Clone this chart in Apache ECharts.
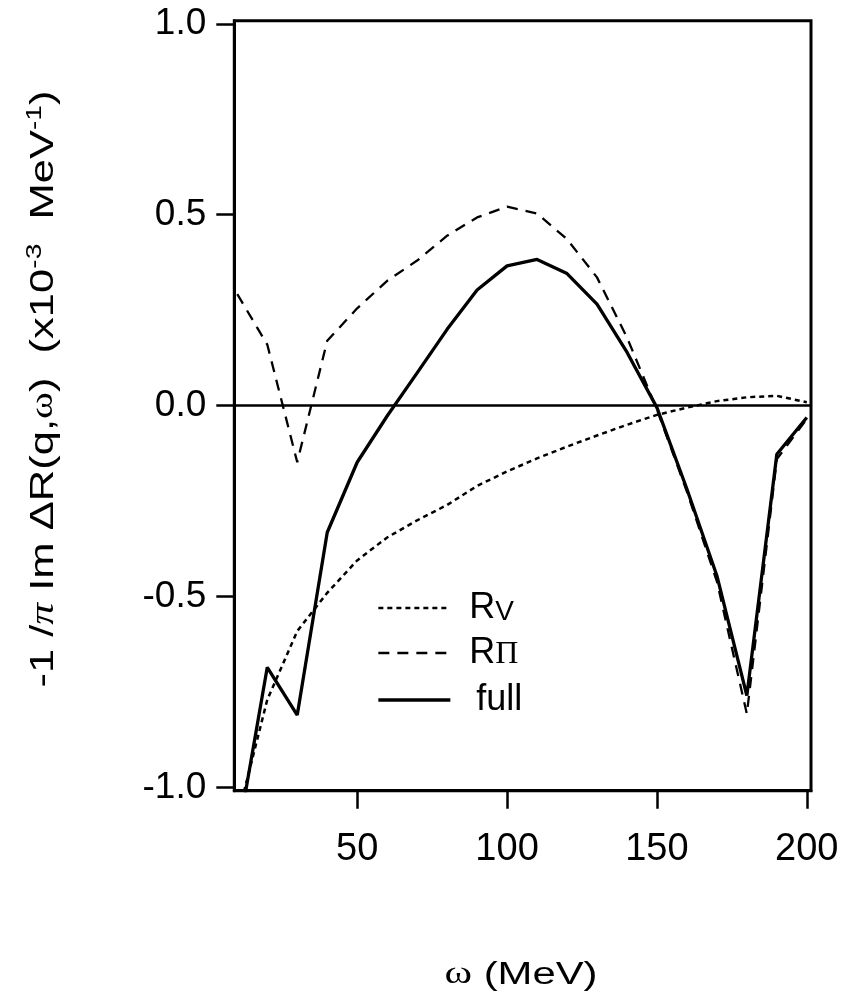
<!DOCTYPE html>
<html>
<head>
<meta charset="utf-8">
<script src="https://cdn.jsdelivr.net/npm/echarts@6/dist/echarts.min.js"></script>
<style>
html,body{margin:0;padding:0;background:#fff;}
#chart{width:849px;height:1001px;}
</style>
</head>
<body>
<div id="chart"></div>
<script>
// omega (MeV)
var omega = [10,20,30,40,50,60,70,80,90,100,110,120,130,140,150,160,170,180,190,200];
// R_V (dotted)
var rV = [-1.08,-0.77,-0.59,-0.49,-0.405,-0.345,-0.30,-0.26,-0.21,-0.172,-0.138,-0.107,-0.078,-0.05,-0.024,-0.005,0.012,0.022,0.026,0.009];
// R_Pi (dashed)
var rPi = [0.292,0.16,-0.148,0.17,0.255,0.327,0.38,0.445,0.493,0.521,0.503,0.436,0.336,0.179,-0.01,-0.225,-0.46,-0.807,-0.14,-0.035];
// full (solid)
var full = [-1.135,-0.685,-0.81,-0.332,-0.148,-0.027,0.086,0.20,0.303,0.366,0.383,0.346,0.266,0.14,-0.005,-0.218,-0.445,-0.759,-0.127,-0.031];
var xTicks = [50,100,150,200];
var yTicks = [-1,-0.5,0,0.5,1];

function pairs(ys){ return omega.map(function(x,i){ return [x, ys[i]]; }); }

var chart = echarts.init(document.getElementById('chart'), null, {renderer:'canvas'});
var FONT = '"Liberation Sans", Arial, sans-serif';
var SERIF = '"Liberation Serif", "DejaVu Serif", serif';

var dotted = {color: '#000', width: 2.5, type: [5,4]};
var dashed = {color: '#000', width: 2.3, type: [11,8]};
var solid = {color: '#000', width: 3.3, type: 'solid'};

chart.setOption({
  animation: false,
  backgroundColor: '#fff',
  grid: {left: 234.3, right: 38, top: 20.7, bottom: 210.3, show: true, borderColor: '#000', borderWidth: 3, backgroundColor: 'transparent'},
  xAxis: {
    type: 'value', min: 9, max: 201.4,
    axisLine: {show: true, onZero: false, lineStyle: {color: '#000', width: 3}},
    axisTick: {show: true, customValues: xTicks, length: 18, lineStyle: {color: '#000', width: 2.5}},
    axisLabel: {customValues: xTicks, margin: 40, color: '#000', fontFamily: FONT, fontSize: 38},
    splitLine: {show: false}
  },
  yAxis: {
    type: 'value', min: -1.008, max: 1.008,
    axisLine: {show: true, onZero: false, lineStyle: {color: '#000', width: 3}},
    axisTick: {show: true, customValues: yTicks, length: 18, lineStyle: {color: '#000', width: 2.5}},
    axisLabel: {customValues: yTicks, margin: 28, color: '#000', fontFamily: FONT, fontSize: 37,
      formatter: function(v){ return v.toFixed(1); }},
    splitLine: {show: false}
  },
  legend: {
    orient: 'vertical', left: 371.7, top: 585, itemWidth: 72, itemHeight: 14, itemGap: 9,
    data: [
      {name: 'RV', lineStyle: dotted},
      {name: 'RΠ', lineStyle: dashed},
      {name: 'full', lineStyle: solid}
    ],
    itemStyle: {opacity: 0},
    textStyle: {color: '#000', fontFamily: FONT, fontSize: 35, lineHeight: 40,
      rich: {
        r: {fontFamily: FONT, fontSize: 36, color: '#000', padding: [0,0,0,14], verticalAlign: 'bottom', lineHeight: 36},
        s: {fontFamily: FONT, fontSize: 28, color: '#000', verticalAlign: 'bottom', lineHeight: 30},
        p: {fontFamily: SERIF, fontSize: 32, color: '#000', verticalAlign: 'bottom', lineHeight: 34},
        f: {fontFamily: FONT, fontSize: 36, color: '#000', padding: [0,0,0,21]}
      }},
    formatter: function(name){
      if (name === 'RV') return '{r|R}{s|V}';
      if (name === 'RΠ') return '{r|R}{p|Π}';
      return '{f|full}';
    }
  },
  graphic: [{
    type: 'text', x: 44, y: 389, rotation: Math.PI/2, scaleX: 1.28,
    style: {
      text: '-1 /{pi|π} Im ΔR(q,{w|ω})  (x10{sup|-3}  MeV{sup|-1})',
      font: '34px "Liberation Sans", Arial, sans-serif', fill: '#000',
      textAlign: 'center', textVerticalAlign: 'middle',
      rich: {
        pi: {fontFamily: SERIF, fontStyle: 'italic', fontSize: 34, fill: '#000'},
        w: {fontFamily: SERIF, fontSize: 32, fill: '#000'},
        sup: {fontFamily: FONT, fontSize: 22, fill: '#000', verticalAlign: 'top', lineHeight: 40}
      }
    }
  }, {
    type: 'text', x: 521, y: 975, scaleX: 1.35,
    style: {
      text: '{w|ω} (MeV)',
      font: '31px "Liberation Sans", Arial, sans-serif', fill: '#000',
      textAlign: 'center', textVerticalAlign: 'middle',
      rich: {w: {fontFamily: SERIF, fontSize: 31, fill: '#000'}}
    }
  }],
  series: [
    {name: 'RV', type: 'line', data: pairs(rV), symbol: 'none', clip: true,
     lineStyle: dotted, itemStyle: {color: '#000'}},
    {name: 'RΠ', type: 'line', data: pairs(rPi), symbol: 'none', clip: true,
     lineStyle: dashed, itemStyle: {color: '#000'}},
    {name: 'full', type: 'line', data: pairs(full), symbol: 'none', clip: true,
     lineStyle: solid, itemStyle: {color: '#000'},
     markLine: {silent: true, symbol: 'none', label: {show: false},
       lineStyle: {color: '#000', width: 2.5, type: 'solid'}, data: [{yAxis: 0}]}}
  ]
});
</script>
</body>
</html>
